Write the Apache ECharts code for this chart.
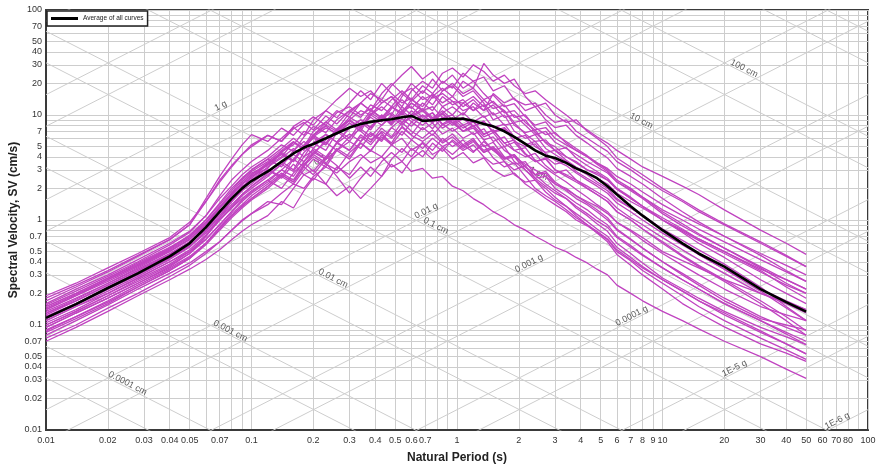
<!DOCTYPE html>
<html><head><meta charset="utf-8">
<script src="https://cdn.jsdelivr.net/npm/echarts@6/dist/echarts.min.js"></script>
<style>html,body{margin:0;padding:0;background:#fff}#c{width:876px;height:466px}</style>
</head><body><div id="c"></div>
<script>
// ---- data ----
const periods = [0.01,0.014,0.02,0.028,0.04,0.05,0.06,0.07,0.08,0.09,0.1,
0.12,0.14,0.16,0.18,0.2,0.23,0.26,0.3,0.34,0.38,0.43,0.48,0.54,0.6,0.68,0.76,0.85,0.95,
1.07,1.2,1.35,1.5,1.7,1.9,2.15,2.4,2.7,3.0,3.4,3.8,4.3,4.8,5.4,6,7,8,10,
12.5,15,20,30,40,50];

const averageSV = [0.117,0.158,0.225,0.31,0.45,0.6,0.85,1.2,1.6,2.0,2.35,
2.9,3.6,4.3,4.9,5.3,6.0,6.7,7.6,8.2,8.6,8.9,9.1,9.5,9.8,8.8,8.9,9.1,9.2,
9.2,8.8,8.2,7.8,7.0,6.2,5.3,4.6,4.1,3.9,3.5,3.1,2.8,2.5,2.1,1.75,1.35,1.1,0.8,
0.6,0.48,0.36,0.22,0.165,0.134];

const curve01 = [0.13,0.176,0.25,0.34,0.48,0.62,0.8,1.15,1.5,1.9,2.6,
3.1,4.5,5.2,7.0,6.4,8.5,11,9.5,13,16,14,19,24,29,22,26,20,24,
18,21,16,13,11,8.5,9,6.8,5.5,5.0,4.0,3.6,3.0,2.8,2.4,2.0,1.6,1.35,1.0,
0.78,0.64,0.48,0.32,0.24,0.2];
const curve02 = [0.15,0.2,0.28,0.39,0.55,0.7,0.95,1.3,1.7,2.3,2.8,
3.3,4.0,5.5,4.8,6.2,7.5,6.8,9.0,11,10,13,15,12,17,21,18,25,28,
23,30,26,21,24,19,16,17,14,12,10,8.4,7.2,6.2,5.4,4.6,3.8,3.2,2.6,
2.1,1.75,1.25,0.8,0.6,0.47];
const curve03 = [0.18,0.24,0.33,0.46,0.65,0.9,1.5,2.4,3.3,4.2,5.0,
6.4,5.6,7.8,9.0,8.0,11,14,18,15,17,13,15,11,12,9.5,10.5,8.0,9.0,
7.0,7.5,5.8,6.2,4.6,4.0,3.4,3.0,2.6,2.2,2.0,1.7,1.5,1.35,1.15,0.95,0.8,0.68,0.5,
0.41,0.35,0.27,0.2,0.165,0.14];
const curve04 = [0.075,0.1,0.145,0.2,0.29,0.37,0.48,0.62,0.8,1.0,1.15,
1.4,1.8,2.2,2.0,2.6,3.2,2.8,3.6,4.2,3.5,4.0,3.2,3.6,2.9,3.1,2.5,2.6,2.1,
1.9,1.6,1.4,1.2,1.05,0.9,0.8,0.7,0.62,0.55,0.5,0.44,0.39,0.34,0.3,0.24,0.2,0.17,0.135,
0.11,0.092,0.07,0.05,0.038,0.031];
const curve05 = [0.09,0.12,0.17,0.24,0.34,0.44,0.6,0.85,1.15,1.4,1.7,
2.2,2.8,2.4,3.4,4.2,3.5,2.6,1.8,2.5,3.2,2.6,3.8,4.8,4.0,5.5,4.6,6.0,5.0,
5.8,4.5,5.2,3.9,3.2,3.5,2.6,2.0,1.7,1.5,1.25,1.05,0.9,0.78,0.66,0.52,0.42,0.35,0.27,
0.21,0.17,0.13,0.088,0.066,0.053];
const curve06 = [0.1,0.135,0.19,0.27,0.38,0.5,0.7,1.0,1.3,1.7,2.0,
2.6,3.4,2.9,4.0,4.6,3.8,5.5,4.6,6.5,5.5,7.5,6.2,8.5,7.0,6.0,7.2,5.6,6.6,
5.2,6.0,4.4,4.8,3.6,3.0,3.3,2.5,2.1,1.8,1.6,1.35,1.15,0.98,0.85,0.68,0.55,0.46,0.35,
0.27,0.22,0.16,0.11,0.082,0.065];
const curve07 = [0.11,0.15,0.21,0.29,0.42,0.55,0.78,1.1,1.5,1.9,2.2,
3.0,2.6,3.8,5.0,4.2,5.8,7.0,5.6,7.8,9.5,8.0,10,8.4,11,9.0,10.5,8.2,9.4,
7.5,8.6,6.5,7.2,5.4,5.8,4.3,3.6,3.9,3.0,2.6,2.3,2.0,1.75,1.5,1.2,1.0,0.82,0.62,
0.46,0.37,0.27,0.17,0.12,0.088];
const curve08 = [0.12,0.16,0.23,0.32,0.46,0.6,0.9,1.3,1.8,2.2,2.5,
3.4,4.2,3.6,5.0,6.0,5.2,7.2,6.0,8.5,7.2,10,8.5,12,10,13,11,15,12.5,
14,11,12.5,9.0,10,7.0,6.0,6.5,4.8,4.2,3.6,3.1,2.7,2.3,2.0,1.6,1.3,1.1,0.82,
0.6,0.47,0.34,0.21,0.145,0.11];
const curve09 = [0.14,0.19,0.27,0.37,0.52,0.68,0.95,1.35,1.8,2.4,2.9,
3.6,4.6,5.6,4.8,6.5,8.0,7.0,9.5,8.2,11,9.5,12,10.5,14,12,16,13,15,
12,14,11,12.5,9.5,10,8.0,6.5,7.0,5.5,4.8,4.2,3.6,3.2,2.8,2.3,1.95,1.65,1.25,
1.0,0.82,0.62,0.42,0.32,0.26];
const curve10 = [0.16,0.22,0.3,0.42,0.6,0.78,1.1,1.6,2.1,2.7,3.2,
4.0,5.2,4.5,6.2,7.8,6.8,9.0,11,9.5,12.5,11,14,17,14,19,16,21,18,
25,21,23,17,19,14,12.5,13,10,8.5,9.0,7.0,6.0,5.2,4.5,3.6,3.0,2.5,1.9,
1.5,1.2,0.9,0.6,0.45,0.36];
const curve11 = [0.125,0.17,0.24,0.33,0.47,0.62,0.85,1.2,1.65,2.1,2.4,
3.2,3.9,4.8,4.0,5.5,6.5,5.5,7.5,9.0,7.5,10,8.4,11,9.2,8.0,9.5,7.5,8.6,
7.0,8.0,6.2,6.8,5.0,5.5,4.2,3.6,3.8,3.0,2.7,2.4,2.1,1.85,1.6,1.3,1.05,0.9,0.68,
0.52,0.42,0.31,0.2,0.16,0.13];
const curve12 = [0.095,0.13,0.18,0.25,0.36,0.48,0.7,1.05,1.5,2.0,2.6,
3.4,4.4,5.5,4.6,6.4,7.8,6.5,8.4,7.0,5.8,6.8,5.2,6.0,4.6,5.4,4.2,4.8,3.8,
4.4,3.5,3.9,3.0,2.6,2.8,2.2,1.9,1.6,1.4,1.2,1.0,0.88,0.76,0.65,0.5,0.41,0.33,0.25,
0.19,0.15,0.11,0.075,0.058,0.047];
const curve13 = [0.17,0.23,0.32,0.45,0.65,0.9,1.6,2.6,3.8,5.2,6.5,
5.6,7.5,6.4,8.2,9.6,8.0,10.5,12,10,11.5,9.2,10.5,8.5,9.6,11,9.0,10.2,8.4,
9.5,7.8,8.6,7.0,7.6,6.0,6.4,5.0,4.4,4.6,3.7,3.2,2.8,2.5,2.2,1.8,1.5,1.3,1.0,
0.8,0.66,0.5,0.34,0.27,0.22];
const curve14 = [0.08,0.11,0.155,0.22,0.31,0.39,0.5,0.62,0.8,0.98,1.15,
1.5,1.4,2.0,2.7,2.4,3.4,3.0,4.4,5.4,4.6,6.2,5.2,7.0,5.8,7.6,6.4,8.2,7.0,
8.0,6.5,7.4,5.6,6.2,4.6,4.0,4.3,3.3,2.8,3.0,2.4,2.0,1.75,1.5,1.2,1.0,0.82,0.6,
0.45,0.36,0.26,0.16,0.11,0.08];
const curve15 = [0.105,0.14,0.2,0.28,0.4,0.52,0.72,1.0,1.35,1.75,2.1,
2.8,3.6,3.0,4.4,5.4,4.6,6.8,8.4,7.0,10,12,10,15,20,16,22,17,19,
15,17,13,10,11,8.0,6.8,7.2,5.4,4.6,4.9,3.9,3.3,2.9,2.5,2.0,1.65,1.35,1.0,
0.76,0.6,0.44,0.27,0.2,0.16];
const curve16 = [0.15,0.2,0.28,0.38,0.54,0.72,1.0,1.45,2.0,2.5,3.0,
3.8,3.2,4.6,5.6,4.8,6.6,5.5,7.6,9.0,7.6,9.8,8.0,10.5,8.6,7.2,8.4,6.6,7.5,
6.0,6.8,5.0,5.5,4.0,3.4,3.6,2.7,2.2,1.9,1.6,1.3,1.1,0.92,0.78,0.6,0.48,0.39,0.28,
0.22,0.18,0.135,0.095,0.077,0.065];
const curve17 = [0.085,0.115,0.16,0.23,0.33,0.43,0.6,0.85,1.1,1.35,1.6,
2.1,2.7,2.3,3.2,2.7,3.8,4.6,3.8,5.4,4.5,6.5,5.4,7.8,6.5,9.0,7.4,9.6,8.0,
9.2,7.8,8.8,6.8,7.4,5.6,5.0,5.3,4.0,3.4,3.6,2.9,2.5,2.2,1.9,1.55,1.3,1.1,0.82,
0.64,0.52,0.38,0.23,0.15,0.11];
const curve18 = [0.19,0.25,0.35,0.48,0.68,0.95,1.5,2.3,3.2,4.2,5.2,
6.4,5.6,7.4,8.5,7.2,9.8,8.2,11,13,11,14,12,16,13.5,17,14.5,16,13.5,
13,15,12,13.5,10.5,11,8.5,7.2,7.6,6.0,5.2,4.6,4.0,3.5,3.1,2.6,2.2,1.85,1.4,
1.1,0.92,0.7,0.48,0.37,0.3];
const curve19 = [0.1,0.135,0.19,0.26,0.37,0.48,0.65,0.9,1.2,1.55,1.85,
2.4,3.0,2.6,3.6,4.4,3.8,5.4,6.6,5.6,7.8,9.6,8.2,11,13,11,15,18,15,
21,18,31,24,20,22,15,12,13,10,8.5,9.0,7.0,6.0,5.0,3.9,3.2,2.7,2.0,
1.55,1.25,0.92,0.62,0.46,0.36];
const curve20 = [0.135,0.18,0.25,0.35,0.5,0.65,0.9,1.3,1.75,2.2,2.7,
3.5,4.4,3.7,5.2,6.4,5.4,7.4,9.0,7.6,10.5,9.0,12,10,13,11,9.2,10.5,8.4,
7.0,7.8,5.8,4.6,5.0,3.6,3.0,2.4,2.0,1.65,1.35,1.1,0.9,0.75,0.62,0.47,0.37,0.3,0.22,
0.16,0.13,0.096,0.066,0.054,0.045];
const curve21 = [0.115,0.155,0.22,0.3,0.43,0.56,0.75,1.0,1.3,1.6,1.9,
2.4,2.0,2.8,3.5,2.9,4.0,3.3,2.5,3.2,2.6,3.6,4.4,3.6,4.8,4.0,5.4,4.5,5.8,
4.8,5.6,4.4,4.9,3.8,4.2,3.2,2.7,2.9,2.3,1.95,1.7,1.45,1.25,1.05,0.82,0.66,0.54,0.4,
0.31,0.25,0.18,0.12,0.095,0.08];
const curve22 = [0.07,0.095,0.135,0.19,0.27,0.34,0.42,0.52,0.65,0.78,0.9,
1.1,1.5,1.3,1.9,2.5,2.2,3.2,2.7,3.8,4.6,4.0,5.2,4.4,5.8,4.8,6.0,5.0,5.6,
4.6,5.2,4.0,3.4,3.6,2.7,2.3,2.4,1.85,1.55,1.35,1.15,0.97,0.82,0.7,0.55,0.44,0.36,0.27,
0.21,0.17,0.125,0.085,0.066,0.053];
const curve23 = [0.145,0.195,0.27,0.37,0.53,0.7,1.0,1.4,1.9,2.5,3.0,
3.8,4.8,6.0,5.0,7.0,8.6,7.2,10.5,13,11,16,20,16,18,14,15.5,12,13.5,
11,12,9.5,10.5,8.0,8.4,6.6,5.6,5.8,4.6,4.0,3.5,3.0,2.7,2.4,1.95,1.6,1.35,1.05,
0.82,0.66,0.5,0.33,0.23,0.18];
const curve24 = [0.088,0.12,0.165,0.23,0.33,0.43,0.58,0.8,1.05,1.3,1.55,
2.0,2.6,2.2,3.0,3.8,3.2,4.6,5.6,4.8,6.6,5.6,7.6,9.2,7.8,10,8.6,12,10,
13,11,14,11.5,12.5,9.5,10,7.6,6.5,6.8,5.4,4.6,4.0,3.4,2.9,2.3,1.9,1.6,1.15,
0.88,0.72,0.54,0.36,0.27,0.22];
const curve25 = [0.11,0.15,0.2,0.28,0.4,0.5,0.66,0.9,1.2,1.5,1.8,
2.3,3.0,3.8,3.2,4.4,5.5,4.6,6.2,7.4,6.2,8.0,9.6,8.0,9.8,11.5,9.4,11,9.0,
10.5,8.6,9.8,7.6,8.2,6.2,5.2,5.6,4.3,3.7,3.3,2.8,2.4,2.1,1.8,1.45,1.2,1.0,0.75,
0.58,0.47,0.34,0.22,0.17,0.14];
const curve26 = [0.13,0.17,0.24,0.33,0.47,0.6,0.85,1.2,1.6,2.0,2.4,
3.0,2.5,3.4,2.7,3.0,2.2,1.7,2.1,1.6,2.0,2.6,3.4,2.8,3.8,4.6,3.8,5.0,4.2,
5.2,4.4,5.6,4.6,3.8,4.0,3.0,2.5,2.6,2.0,1.7,1.45,1.25,1.05,0.9,0.7,0.57,0.47,0.35,
0.27,0.22,0.16,0.11,0.085,0.07];
const curve27 = [0.155,0.21,0.29,0.4,0.58,0.76,1.1,1.7,2.4,3.0,3.6,
4.6,6.0,7.6,6.4,9.0,11,9.4,13,17,14,20,16,13,14.5,11,12,9.4,10,
8.0,8.8,6.6,7.2,5.4,4.6,4.9,3.7,3.1,2.7,2.3,1.95,1.65,1.4,1.2,0.95,0.78,0.64,0.48,
0.37,0.3,0.22,0.15,0.125,0.11];
const curve28 = [0.095,0.13,0.18,0.25,0.35,0.45,0.6,0.82,1.1,1.35,1.6,
2.1,2.7,2.3,3.3,4.0,3.4,4.8,4.0,5.6,6.8,5.8,7.6,6.4,8.6,10,8.4,10.5,12,
10,13,11,16,13,14.5,11,12,9.0,7.6,8.0,6.4,5.4,4.6,3.9,3.1,2.6,2.2,1.6,
1.2,0.96,0.7,0.46,0.33,0.26];
const curve29 = [0.12,0.16,0.22,0.31,0.44,0.57,0.78,1.05,1.4,1.75,2.1,
2.7,3.4,4.2,3.6,4.8,4.0,5.4,4.6,6.2,5.2,7.0,6.0,7.6,6.4,5.6,6.6,5.4,6.2,
5.0,5.8,4.6,5.0,3.9,4.2,3.2,2.7,2.8,2.2,1.9,1.6,1.4,1.2,1.0,0.8,0.65,0.54,0.4,
0.3,0.24,0.17,0.115,0.1,0.09];
const curve30 = [0.14,0.19,0.26,0.36,0.51,0.66,0.92,1.3,1.75,2.2,2.7,
3.4,4.3,3.6,5.0,6.2,5.2,7.2,8.8,7.4,10,8.6,11.5,14,11.5,15,12.5,17,20,
16,18,14,15.5,12,12.8,9.6,8.0,8.6,6.6,5.6,4.8,4.1,3.5,3.0,2.4,2.0,1.65,1.2,
0.92,0.74,0.54,0.35,0.25,0.2];

const recordCurves = [curve01,curve02,curve03,curve04,curve05,curve06,curve07,curve08,
  curve09,curve10,curve11,curve12,curve13,curve14,curve15,curve16,curve17,curve18,
  curve19,curve20,curve21,curve22,curve23,curve24,curve25,curve26,curve27,curve28,
  curve29,curve30];

// axis ticks and labels
const xGridValues = [0.01,0.02,0.03,0.04,0.05,0.06,0.07,0.08,0.09,
  0.1,0.2,0.3,0.4,0.5,0.6,0.7,0.8,0.9,1,2,3,4,5,6,7,8,9,
  10,20,30,40,50,60,70,80,90,100];
const xLabelValues = [0.01,0.02,0.03,0.04,0.05,0.07,0.1,0.2,0.3,0.4,0.5,0.6,0.7,
  1,2,3,4,5,6,7,8,9,10,20,30,40,50,60,70,80,100];
const yGridValues = [0.01,0.02,0.03,0.04,0.05,0.06,0.07,0.08,0.09,
  0.1,0.2,0.3,0.4,0.5,0.6,0.7,0.8,0.9,1,2,3,4,5,6,7,8,9,
  10,20,30,40,50,60,70,80,90,100];
const yLabelValues = [0.01,0.02,0.03,0.04,0.05,0.07,0.1,0.2,0.3,0.4,0.5,0.7,
  1,2,3,4,5,7,10,20,30,40,50,70,100];

// tripartite diagonal grid
const dispLineValues = [1e-5,5e-5,1e-4,5e-4,1e-3,5e-3,0.01,0.05,0.1,0.5,1,5,10,50,100,500,1000]; // cm
const accLineValues = [1e-6,5e-6,1e-5,5e-5,1e-4,5e-4,1e-3,5e-3,0.01,0.05,0.1,0.5,1,5,10,50]; // g
const dispLabelValues = [1e-4,1e-3,0.01,0.1,1,10,100];
const dispLabelTexts = ['0.0001 cm','0.001 cm','0.01 cm','0.1 cm','1 cm','10 cm','100 cm'];
const accLabelValues = [1,0.1,0.01,1e-3,1e-4,1e-5,1e-6];
const accLabelTexts = ['1 g','0.1 g','0.01 g','0.001 g','0.0001 g','1E-5 g','1E-6 g'];

// ---- build ----
const G = 981, TWO_PI = 2*Math.PI;
const T0 = 0.01, T1 = 100;
const accLabelAnchorSD = 0.13;   // cm : line along which g-labels sit
const dispLabelAnchorSA = 6.6;   // cm/s2 : line along which cm-labels sit
const gridLeft = 46, gridRight = 8, gridTop = 10, gridBottom = 36;
const W = 876, H = 466;
const slopeDeg = Math.atan(((H-gridTop-gridBottom)/4)/((W-gridLeft-gridRight)/4))*180/Math.PI;

const gridColor = '#cdcdcd';
const series = [];
dispLineValues.forEach(d => {
  series.push({type:'line', silent:true, symbol:'none', z:1, clip:true,
    lineStyle:{color:gridColor, width:1},
    data:[[T0, TWO_PI*d/T0],[T1, TWO_PI*d/T1]]});
});
accLineValues.forEach(a => {
  const ac = a*G;
  series.push({type:'line', silent:true, symbol:'none', z:1, clip:true,
    lineStyle:{color:gridColor, width:1},
    data:[[T0, ac*T0/TWO_PI],[T1, ac*T1/TWO_PI]]});
});
const lblStyle = {show:true, position:'inside', fontSize:9, color:'#333',
  fontFamily:'Liberation Sans, Arial, sans-serif'};
series.push({type:'scatter', silent:true, symbolSize:1, z:2,
  itemStyle:{color:'rgba(0,0,0,0)'},
  label:Object.assign({}, lblStyle, {rotate:slopeDeg, offset:[0,-4]}),
  data: accLabelValues.map((a,i) => {
    const ac = a*G; const T = TWO_PI*Math.sqrt(accLabelAnchorSD/ac);
    return {value:[T, ac*T/TWO_PI], label:{formatter:accLabelTexts[i]}};
  })});
series.push({type:'scatter', silent:true, symbolSize:1, z:2,
  itemStyle:{color:'rgba(0,0,0,0)'},
  label:Object.assign({}, lblStyle, {rotate:-slopeDeg, offset:[0,-4]}),
  data: dispLabelValues.map((d,i) => {
    const T = TWO_PI*Math.sqrt(d/dispLabelAnchorSA);
    return {value:[T, TWO_PI*d/T], label:{formatter:dispLabelTexts[i]}};
  })});
recordCurves.forEach((c,k) => {
  series.push({type:'line', name:'record'+(k+1), symbol:'none', z:3, silent:true,
    lineStyle:{color:'#c043c0', width:1.3},
    data: periods.map((t,i)=>[t,c[i]])});
});
series.push({type:'line', name:'Average of all curves', symbol:'none', z:5, silent:true,
  color:'#000', lineStyle:{color:'#000', width:2.6},
  data: periods.map((t,i)=>[t,averageSV[i]])});

const fmt = v => String(+Number(v).toPrecision(6));
const font = 'Liberation Sans, Arial, sans-serif';
const chart = echarts.init(document.getElementById('c'), null, {renderer:'canvas'});
chart.setOption({
  animation:false,
  backgroundColor:'#fff',
  grid:{left:gridLeft, right:gridRight, top:gridTop, bottom:gridBottom, show:true,
    containLabel:false, outerBoundsMode:'none',
    borderColor:'#3a3a3a', borderWidth:2, backgroundColor:'rgba(0,0,0,0)'},
  legend:{data:['Average of all curves'], left:47, top:11, orient:'horizontal',
    icon:'rect', itemWidth:27, itemHeight:3, itemGap:4,
    padding:[4,4,4,4], borderColor:'#222', borderWidth:1.5, borderRadius:0,
    backgroundColor:'#fff', selectedMode:false,
    textStyle:{fontSize:6.5, color:'#222', fontFamily:font}},
  xAxis:{type:'log', logBase:10, min:0.01, max:100,
    name:'Natural Period (s)', nameLocation:'middle', nameGap:22, nameMoveOverlap:false,
    nameTextStyle:{fontSize:12, fontWeight:'bold', color:'#222', fontFamily:font},
    axisLine:{show:true, lineStyle:{color:'#3a3a3a', width:2}},
    axisTick:{show:false, customValues:xGridValues},
    axisLabel:{customValues:xLabelValues, formatter:fmt, fontSize:9, color:'#333', margin:6, fontFamily:font},
    splitLine:{show:true, lineStyle:{color:gridColor, width:1}},
    minorSplitLine:{show:false}},
  yAxis:{type:'log', logBase:10, min:0.01, max:100,
    name:'Spectral Velocity, SV (cm/s)', nameLocation:'middle', nameGap:26, nameRotate:90,
    nameMoveOverlap:false,
    nameTextStyle:{fontSize:12, fontWeight:'bold', color:'#222', fontFamily:font},
    axisLine:{show:true, lineStyle:{color:'#3a3a3a', width:2}},
    axisTick:{show:false, customValues:yGridValues},
    axisLabel:{customValues:yLabelValues, formatter:fmt, fontSize:9, color:'#333', margin:4, fontFamily:font},
    splitLine:{show:true, lineStyle:{color:gridColor, width:1}},
    minorSplitLine:{show:false}},
  series: series
});
</script></body></html>
